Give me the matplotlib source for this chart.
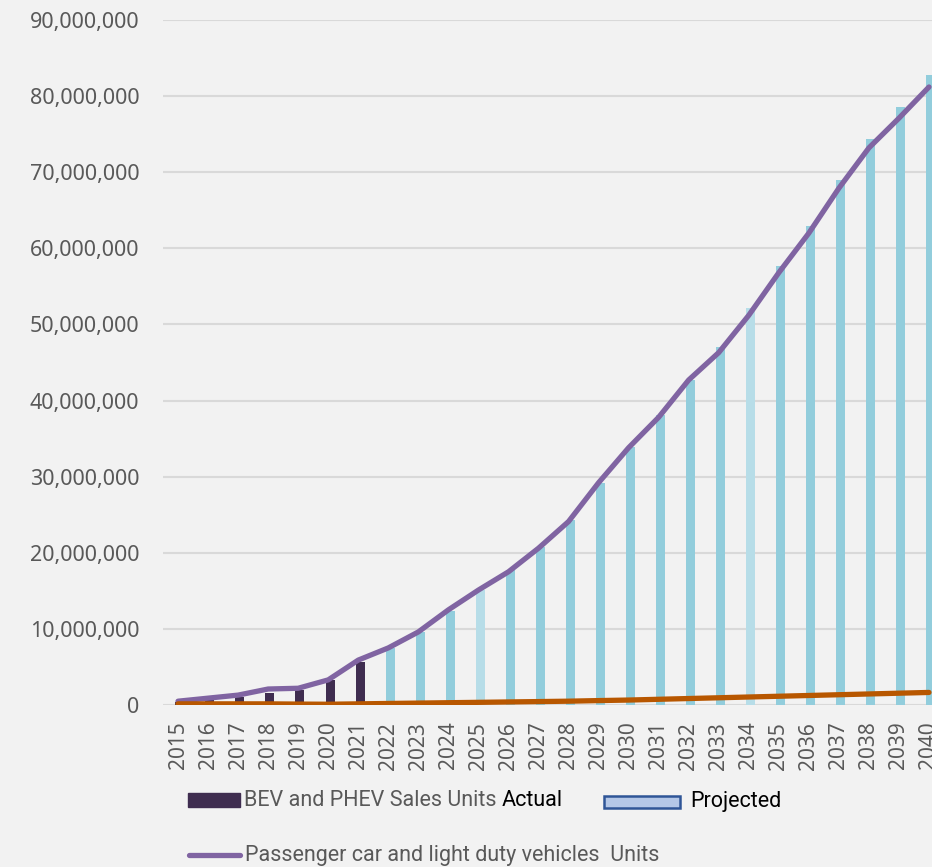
import numpy as np
import matplotlib.pyplot as plt
from matplotlib.patches import Rectangle
from matplotlib.lines import Line2D
from matplotlib.ticker import FuncFormatter

years = list(range(2015, 2041))
# BEV and PHEV sales units (bars), actual up to 2021 then projected
sales = [0.4e6, 0.7e6, 1.1e6, 1.6e6, 2.0e6, 3.3e6, 5.7e6,
         7.5e6, 9.6e6, 12.3e6, 15.1e6, 17.7e6, 20.8e6, 24.3e6, 29.2e6,
         33.9e6, 38.1e6, 42.7e6, 47.1e6, 52.2e6, 57.7e6, 62.9e6, 69.0e6,
         74.4e6, 78.6e6, 82.8e6]
actual_until = 2021
light_years = [2025, 2034]
# purple line
passenger = [0.5e6, 0.9e6, 1.3e6, 2.1e6, 2.2e6, 3.3e6, 5.9e6,
             7.5e6, 9.6e6, 12.5e6, 15.1e6, 17.5e6, 20.6e6, 24.1e6, 29.2e6,
             33.8e6, 37.8e6, 42.7e6, 46.3e6, 51.2e6, 56.8e6, 62.0e6, 67.9e6,
             73.2e6, 77.1e6, 81.2e6]
# orange line
other = [0.15e6, 0.15e6, 0.15e6, 0.15e6, 0.12e6, 0.1e6, 0.15e6,
         0.2e6, 0.25e6, 0.3e6, 0.35e6, 0.4e6, 0.45e6, 0.5e6, 0.58e6,
         0.65e6, 0.75e6, 0.85e6, 0.95e6, 1.05e6, 1.15e6, 1.25e6, 1.35e6,
         1.45e6, 1.55e6, 1.65e6]

bg = '#f2f2f2'
grey = '#595959'

fig = plt.figure(figsize=(9.32, 8.67), dpi=100, facecolor=bg)
W, H = 932, 867
ax = fig.add_axes([163 / W, (H - 705) / H, (944 - 163) / W, (705 - 20) / H])
ax.set_facecolor(bg)

x = np.arange(len(years))
cols = []
for y in years:
    if y <= actual_until:
        cols.append('#3f2d50')
    elif y in light_years:
        cols.append('#b7dde8')
    else:
        cols.append('#92cddc')
ax.bar(x + 0.06, sales, width=0.3, color=cols, zorder=2)
ax.plot(x, passenger, color='#8064a2', lw=3.8, solid_capstyle='round', zorder=3)
ax.plot(x, other, color='#b85700', lw=3.8, solid_capstyle='round', zorder=4)

ax.set_xlim(-0.5, len(years) - 0.5)
ax.set_ylim(0, 90e6)
ax.set_yticks(np.arange(0, 90e6 + 1, 10e6))
ax.yaxis.set_major_formatter(FuncFormatter(lambda v, p: f'{int(v):,}'))
ax.set_xticks(x)
ax.set_xticklabels([str(y) for y in years], rotation=90)
ax.grid(axis='y', color='#d9d9d9', lw=1.5, zorder=0)
ax.tick_params(length=0)
ax.tick_params(axis='y', pad=17, labelsize=15.5, labelcolor=grey)
ax.tick_params(axis='x', pad=12, labelsize=15, labelcolor=grey)
for lab in ax.get_xticklabels() + ax.get_yticklabels():
    lab.set_fontfamily('Noto Sans')
for s in ax.spines.values():
    s.set_visible(False)

# legend drawn by hand in pixel coords
lg = fig.add_axes([0, 0, 1, 1])
lg.set_xlim(0, W)
lg.set_ylim(H, 0)
lg.axis('off')
lfont = 'Roboto'
lsize = 15.5
lg.add_patch(Rectangle((188, 793), 52, 14, color='#3f2d50'))
t1 = lg.text(244, 800, 'BEV and PHEV Sales Units ', color=grey, fontsize=lsize,
             family=lfont, va='center', ha='left')
fig.canvas.draw()
bb = t1.get_window_extent()
lg.text(bb.x1, 800, 'Actual', color='black', fontsize=lsize,
        family=lfont, va='center', ha='left')
lg.add_patch(Rectangle((604, 796), 76, 12, facecolor='#b4c7e7',
                       edgecolor='#2f5597', lw=1.8))
lg.text(690, 801, 'Projected', color='black', fontsize=lsize,
        family=lfont, va='center', ha='left')
lg.add_line(Line2D([189, 240], [855, 855], color='#8064a2', lw=3.8,
                   solid_capstyle='round'))
lg.text(245, 855, 'Passenger car and light duty vehicles  Units', color=grey,
        fontsize=lsize, family=lfont, va='center', ha='left')

fig.savefig('out.png', dpi=100, facecolor=bg)
